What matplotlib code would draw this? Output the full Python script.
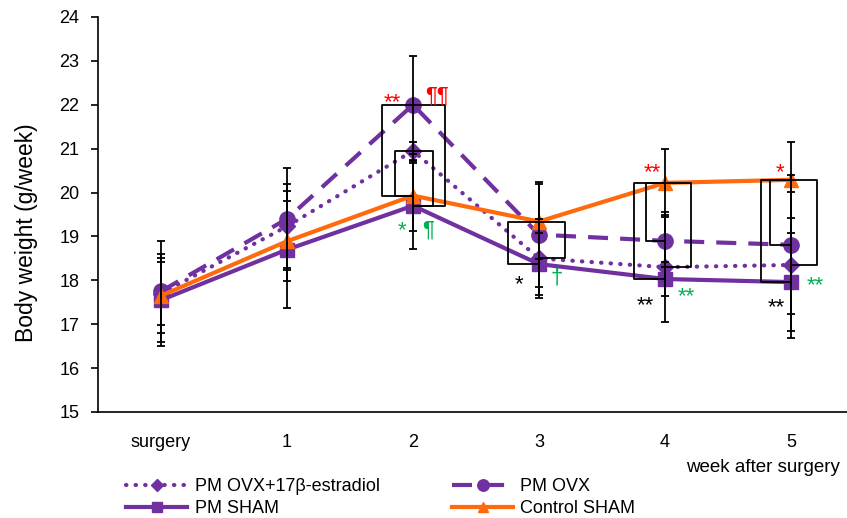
import matplotlib
matplotlib.use("Agg")
import matplotlib.pyplot as plt
from matplotlib import transforms

plt.rcParams['font.family'] = ['Liberation Sans', 'DejaVu Sans']

# data
weeks = ["surgery", "1", "2", "3", "4", "5"]
ovxE2 = [17.7, 19.23, 20.95, 18.5, 18.3, 18.35]
ovxE2Sd = [0.72, 0.96, 0.2, 0.9, 1.25, 1.67]
ovx = [17.75, 19.4, 22.0, 19.04, 18.9, 18.81]
ovxSd = [1.15, 1.17, 1.12, 1.2, 0.6, 1.58]
sham = [17.55, 18.7, 19.7, 18.37, 18.03, 17.96]
shamSd = [1.04, 1.33, 0.98, 0.7, 0.38, 1.12]
control = [17.65, 18.89, 19.93, 19.34, 20.22, 20.29]
controlSd = [0.85, 0.91, 0.8, 0.85, 0.78, 0.86]

series = {"ovxE2": ovxE2, "ovx": ovx, "sham": sham, "control": control}

# boxes: (week index, side, width, top series, bottom series)
boxes = [(2, -1, 0.25, "ovx", "control"), (2, 1, 0.25, "ovx", "sham"),
         (2, -1, 0.145, "ovxE2", "control"), (2, 1, 0.16, "ovxE2", "sham"),
         (3, -1, 0.25, "control", "sham"), (3, 1, 0.21, "control", "ovxE2"),
         (4, -1, 0.245, "control", "sham"), (4, 1, 0.21, "control", "ovxE2"),
         (4, -1, 0.15, "control", "ovx"),
         (5, -1, 0.24, "control", "sham"), (5, 1, 0.21, "control", "ovxE2"),
         (5, -1, 0.17, "control", "ovx")]

# significance marks: (text, colour, x, y of glyph centre)
marks = [("**", "red", 1.833, 22.22), ("¶¶", "red", 2.19, 22.2),
         ("*", "green", 1.913, 19.31), ("¶", "green", 2.119, 19.15),
         ("*", "black", 2.841, 18.06), ("†", "green", 3.143, 18.06),
         ("**", "red", 3.897, 20.63), ("**", "black", 3.841, 17.6),
         ("**", "green", 4.167, 17.8),
         ("*", "red", 4.913, 20.63), ("**", "black", 4.881, 17.54),
         ("**", "green", 5.19, 18.04)]

purple = "#7030A0"
orange = "#FF6A0D"
colours = {"red": "#FF0000", "green": "#00B050", "black": "black"}

fig = plt.figure(figsize=(8.47, 5.18), dpi=100)
ax = fig.add_axes([98/847, 106/518, 756/847, 395/518])
x = list(range(len(weeks)))

ax.plot(x, ovxE2, color=purple, lw=3, linestyle=(0, (0.1, 2.2)), dash_capstyle="round",
        marker="D", ms=8, label="PM OVX+17β-estradiol", zorder=3)
ax.plot(x, ovx, color=purple, lw=3, linestyle=(0, (4.8, 2.9)),
        marker="o", ms=11, label="PM OVX", zorder=3)
ax.plot(x, sham, color=purple, lw=3, marker="s", ms=10, label="PM SHAM", zorder=3)
ax.plot(x, control, color=orange, lw=3, marker="^", ms=10, label="Control SHAM", zorder=3)

for vals, sd in [(ovxE2, ovxE2Sd), (ovx, ovxSd), (sham, shamSd), (control, controlSd)]:
    ax.errorbar(x, vals, yerr=sd, fmt="none", ecolor="black", elinewidth=1.3,
                capsize=3, capthick=1.3, zorder=4)

for wk, side, w, top, bot in boxes:
    yt = series[top][wk]
    yb = series[bot][wk]
    xe = wk + side * w
    ax.plot([wk, xe, xe, wk], [yt, yt, yb, yb], color="black", lw=1.3, zorder=5)

markSize = 16
for txt, c, tx, ty in marks:
    # asterisks sit high in the line, pilcrow/dagger near the middle
    k = 0.58 if txt.startswith("*") else 0.27
    tr = transforms.offset_copy(ax.transData, fig=fig, y=-k * markSize, units="points")
    ax.text(tx, ty, txt, color=colours[c], fontsize=markSize, ha="center", va="baseline",
            transform=tr, zorder=6)

ax.set_xlim(-0.5, 5.5)
ax.set_ylim(15, 24)
ax.set_xticks(x)
ax.set_xticklabels(weeks)
ax.tick_params(axis="x", length=0, labelsize=13, pad=16)
ax.tick_params(axis="y", length=5, labelsize=13, direction="out", pad=8.5, width=1.2)
ax.spines["top"].set_visible(False)
ax.spines["right"].set_visible(False)
ax.spines["left"].set_linewidth(1.2)
ax.spines["bottom"].set_linewidth(1.2)
ax.set_ylabel("Body weight (g/week)", fontsize=16.5)
ax.yaxis.set_label_coords(-(98 - 38) / 756, 0.455)

fig.text(840/847, 1 - 467/518, "week after surgery", fontsize=13.5, ha="right", va="center")

h, l = ax.get_legend_handles_labels()
order = [0, 2, 1, 3]
fig.legend([h[i] for i in order], [l[i] for i in order], ncol=2, frameon=False,
           loc="upper left", bbox_to_anchor=(126/847, 1 - 478/518), fontsize=13,
           handlelength=3.4, handletextpad=0.4, columnspacing=4, labelspacing=0.3,
           borderpad=0, borderaxespad=0, markerscale=0.75)

fig.savefig("out.png", dpi=100)
